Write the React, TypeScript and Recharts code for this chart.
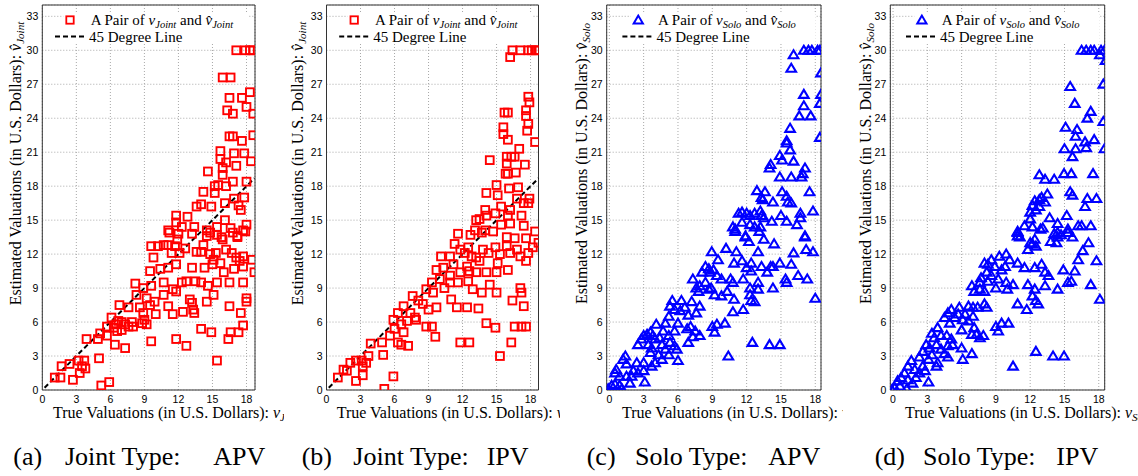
import { ScatterChart, Scatter, XAxis, YAxis, CartesianGrid, ReferenceLine, ReferenceArea } from "recharts";

const yTicks = [0, 3, 6, 9, 12, 15, 18, 21, 24, 27, 30, 33];
const xTicks = [0, 3, 6, 9, 12, 15, 18];
const yDomain = [0, 34];
const diagonal = [0.2, 18.7];

// (a) Joint type, APV: [true valuation, estimated valuation]
const jointApv = [
  [17.1, 30], [17.9, 30], [18.3, 30], [18.6, 30],
  [15.9, 27.6], [16.6, 27.6], [16.5, 25.8], [17.6, 25.8], [18.3, 26.3],
  [16.3, 24.7], [16.8, 24.4], [18.0, 25.0], [18.6, 24.4],
  [16.5, 22.4], [16.8, 22.4], [17.6, 22.0], [18.6, 22.5],
  [15.7, 21.1], [15.7, 20.4], [16.2, 20.1], [16.9, 20.9], [17.8, 20.9], [17.1, 19.8], [18.4, 20.2],
  [14.6, 19.3], [15.9, 19.6], [15.9, 19.0], [15.2, 18.0], [15.5, 18.1], [16.2, 18.0], [16.8, 18.4], [18.0, 18.4],
  [14.2, 17.5], [15.2, 17.4], [16.9, 16.9], [17.8, 17.0],
  [13.6, 16.2], [14.0, 16.4], [14.9, 16.2], [16.1, 16.5], [17.3, 16.3], [17.5, 15.9],
  [11.8, 15.4], [11.8, 14.8], [12.8, 15.3], [12.3, 14.4], [11.1, 14.1], [13.4, 14.4], [14.5, 14.1], [15.4, 14.4],
  [16.1, 15.0], [16.6, 14.3], [18.0, 14.6], [17.7, 14.1], [15.8, 13.5], [17.2, 13.5],
  [11.2, 13.9], [12.0, 13.8], [13.2, 13.8], [14.8, 13.9], [15.9, 13.3], [16.8, 13.9], [17.2, 13.6], [17.9, 14.0],
  [11.9, 13.3], [14.5, 13.6], [15.4, 13.7],
  [9.6, 12.7], [10.2, 12.7], [10.7, 12.8], [9.8, 11.7], [11.1, 12.8], [11.4, 12.1], [11.7, 12.7], [12.1, 12.1],
  [12.6, 12.5], [13.6, 12.2], [14.0, 12.2], [14.2, 12.8], [14.8, 12.0], [15.1, 11.5], [15.3, 12.1], [15.7, 11.2],
  [16.2, 12.4], [16.7, 12.1], [17.1, 11.7], [17.4, 11.4], [17.7, 11.8], [18.5, 11.5], [18.7, 10.4],
  [9.5, 10.5], [10.4, 10.7], [11.1, 10.8], [11.8, 11.1], [13.2, 10.8], [14.3, 10.8], [15.0, 11.1], [16.0, 10.4],
  [16.9, 10.7], [17.7, 10.9],
  [8.2, 9.4], [8.9, 9.0], [9.6, 9.2], [10.7, 9.5], [11.5, 8.9], [12.3, 9.5], [12.7, 9.6], [13.5, 9.6], [14.0, 9.5],
  [14.6, 9.2], [15.4, 9.5], [16.5, 9.5], [17.7, 9.5],
  [8.3, 8.4], [9.2, 8.1], [9.9, 7.8], [10.7, 8.4], [11.8, 8.7], [13.0, 8.0], [13.2, 7.7], [14.5, 7.8], [15.1, 8.4],
  [16.5, 7.4], [18.0, 8.1], [18.0, 7.8],
  [6.8, 7.5], [7.6, 7.3], [8.6, 7.3], [9.5, 7.5], [11.1, 7.4], [11.5, 6.7], [12.4, 6.9], [13.3, 7.1], [13.4, 6.8], [17.5, 6.8],
  [6.1, 6.4], [6.7, 6.1], [7.3, 5.8], [8.0, 5.6], [8.9, 6.8], [9.0, 6.2], [9.2, 5.8], [10.0, 6.7],
  [5.7, 5.6], [6.3, 5.5], [7.0, 5.3], [8.8, 5.9], [17.7, 5.7], [6.5, 5.8], [7.0, 6.0], [7.6, 5.6], [6.6, 5.2], [7.9, 6.0],
  [5.1, 5.0], [5.7, 4.8], [6.4, 4.0], [7.3, 3.7], [3.9, 4.5], [4.9, 4.5], [9.6, 4.3], [11.8, 4.5], [12.7, 3.9],
  [14.0, 5.4], [14.9, 5.1], [16.4, 4.5], [16.6, 5.1], [17.3, 5.1], [15.4, 2.6],
  [5.0, 2.8], [3.7, 2.6], [3.5, 2.1], [3.2, 2.6], [3.3, 1.5], [2.4, 2.3], [1.7, 2.1], [2.7, 0.9], [1.1, 1.1],
  [1.6, 1.1], [5.2, 0.4], [5.9, 0.7], [3.8, 1.9],
];

// (b) Joint type, IPV
const jointIpv = [
  [16.4, 30], [17.1, 30], [17.8, 30], [18.1, 30], [18.4, 30], [18.65, 30], [16.2, 29.4],
  [15.7, 24.5], [16.0, 24.5], [17.8, 25.9], [17.9, 25.4], [17.6, 24.7], [17.6, 24.2], [17.8, 23.5], [17.7, 22.9],
  [15.6, 23.2], [15.6, 22.6], [16.0, 22.1], [18.4, 21.9], [14.4, 20.3], [17.0, 21.3],
  [15.9, 20.6], [16.3, 20.6], [16.6, 20.6], [15.9, 20.0], [15.8, 19.1], [16.0, 19.1], [16.7, 19.2], [17.5, 19.9],
  [15.0, 18.1], [15.1, 17.2], [16.1, 17.8], [16.9, 17.9], [14.1, 17.4],
  [15.4, 16.2], [16.2, 15.9], [16.8, 16.9], [17.4, 16.5], [17.8, 16.5], [17.9, 16.9],
  [14.0, 15.9], [13.2, 15.0], [13.5, 15.1], [14.1, 15.4], [14.9, 15.6], [16.0, 15.4], [15.4, 14.6], [16.2, 14.7],
  [17.2, 15.4], [17.4, 14.5],
  [11.6, 13.8], [12.7, 13.7], [13.1, 14.1], [14.0, 14.1], [14.7, 14.0], [15.9, 13.5], [17.6, 13.4], [18.4, 14.0],
  [13.7, 13.9], [16.6, 13.4], [18.7, 13.0],
  [10.1, 11.8], [10.9, 11.8], [11.3, 12.9], [11.8, 12.4], [12.2, 12.1], [12.5, 12.6], [12.8, 11.8], [13.2, 11.7],
  [13.8, 12.4], [14.3, 12.1], [14.9, 12.6], [15.3, 12.0], [15.9, 12.7], [16.2, 12.1], [16.8, 12.4], [17.1, 11.8],
  [17.6, 11.4], [17.8, 12.1], [18.2, 12.6], [13.5, 11.4], [15.1, 11.2],
  [9.7, 10.6], [10.3, 10.8], [11.2, 11.1], [11.8, 10.4], [12.4, 10.9], [12.6, 10.5], [13.2, 10.4], [14.1, 10.4],
  [15.0, 10.4], [16.0, 10.6],
  [9.3, 9.5], [10.0, 9.8], [10.9, 10.1], [8.8, 8.9], [9.4, 8.6], [10.4, 9.0], [10.9, 9.5], [11.6, 9.5], [12.5, 9.6],
  [12.9, 8.9], [13.7, 8.6], [14.4, 9.3], [15.0, 8.6], [17.1, 9.0], [17.2, 8.6],
  [7.6, 8.3], [8.1, 7.9], [8.5, 7.6], [9.0, 7.1], [9.7, 7.3], [11.0, 8.0], [11.5, 7.3], [12.4, 7.3], [13.4, 7.2],
  [16.4, 7.9], [17.4, 7.4],
  [6.8, 7.4], [6.3, 6.8], [7.4, 6.8], [7.8, 6.4], [5.9, 6.2], [6.6, 5.8], [7.1, 6.1], [7.9, 6.2], [6.0, 5.4],
  [6.8, 5.1], [8.8, 5.6], [9.3, 5.6],
  [5.6, 4.8], [4.9, 4.2], [6.3, 4.2], [6.6, 4.0], [7.2, 3.9], [9.6, 4.7], [11.8, 4.2], [12.6, 4.2], [14.1, 5.9],
  [14.9, 5.5], [16.6, 5.6], [17.2, 5.6], [17.6, 5.6], [16.3, 4.2], [15.3, 3.0],
  [5.0, 3.1], [3.7, 3.0], [3.1, 2.6], [3.5, 2.4], [3.2, 2.1], [2.6, 2.6], [2.1, 2.4], [3.2, 1.3], [1.5, 1.8],
  [1.8, 1.7], [1.0, 1.1], [2.6, 0.8], [5.9, 1.2], [5.1, 0.1], [3.9, 4.1],
];

// (c) Solo type, APV
const soloApv = [
  [17.0, 30], [17.4, 30], [17.7, 30], [18.2, 30], [18.4, 30], [16.1, 29.6], [15.9, 28.4], [18.5, 28.0],
  [17.0, 26.1], [18.5, 26.1], [17.0, 25.1], [18.4, 25.3], [16.6, 24.2], [17.6, 24.2], [15.8, 23.1],
  [15.5, 22.0], [15.5, 21.8], [18.4, 22.3], [15.8, 21.2], [14.9, 20.7], [15.1, 20.3], [16.1, 20.2],
  [14.1, 19.9], [14.0, 19.6], [14.9, 18.8], [15.9, 18.8], [16.9, 19.1], [17.1, 19.6], [16.8, 18.8],
  [12.9, 17.6], [13.6, 17.5], [13.3, 17.0], [13.4, 16.8], [14.3, 16.6], [15.1, 17.5], [15.5, 17.1], [15.6, 16.6],
  [15.9, 16.5], [17.5, 17.5],
  [11.3, 15.6], [11.6, 15.7], [12.0, 15.6], [12.3, 15.4], [12.7, 15.6], [13.2, 15.8], [13.3, 15.4],
  [16.7, 15.6], [17.8, 15.8], [13.5, 15.2], [14.2, 14.9], [15.0, 15.4], [15.5, 14.9], [16.7, 15.2],
  [10.8, 14.4], [11.0, 14.2], [11.6, 14.8], [12.3, 14.6], [12.7, 14.4], [13.2, 14.4], [16.4, 14.6], [17.1, 13.5],
  [11.9, 13.5], [11.0, 14.0], [11.9, 13.6], [12.2, 13.1], [13.5, 13.3], [13.1, 14.0], [17.1, 13.6], [14.4, 12.9],
  [8.95, 12.2], [10.2, 12.5], [11.1, 12.2], [13.0, 12.2], [16.1, 12.1], [17.2, 12.4], [17.8, 12.2],
  [9.5, 11.5], [10.9, 11.2], [11.6, 11.4], [12.4, 11.2], [14.9, 11.2], [15.9, 11.1], [13.3, 10.9], [14.1, 10.9],
  [14.3, 10.9], [12.0, 10.8], [12.4, 10.5], [13.8, 10.4],
  [7.3, 9.8], [8.1, 10.4], [8.4, 10.9], [8.7, 10.7], [8.8, 10.4], [9.1, 10.6], [9.4, 10.1], [9.8, 9.8],
  [10.6, 9.8], [10.8, 9.5], [11.7, 9.8], [13.0, 9.5], [15.4, 9.8], [16.5, 10.1], [17.3, 9.8], [15.5, 9.5],
  [7.6, 9.0], [7.8, 8.7], [7.9, 9.2], [8.4, 9.5], [8.7, 8.9], [8.9, 9.0], [9.2, 8.4], [9.8, 8.3], [10.3, 8.7],
  [12.3, 9.0], [13.0, 8.9], [14.3, 9.0], [12.3, 8.4], [12.4, 7.9], [12.7, 7.8], [10.9, 8.0], [18.0, 8.1],
  [5.5, 7.9], [6.3, 7.9], [7.2, 7.8], [7.9, 7.4], [6.6, 7.3], [5.7, 7.1], [5.3, 7.4], [6.2, 7.0], [6.9, 6.6],
  [7.6, 6.8], [5.2, 6.5], [11.7, 7.1], [10.8, 6.9],
  [4.1, 5.8], [4.9, 5.9], [6.0, 5.9], [6.8, 5.4], [7.1, 5.6], [7.5, 5.2], [7.9, 4.8], [5.7, 5.2],
  [3.3, 4.9], [3.6, 5.1], [3.8, 4.8], [3.0, 4.8], [2.8, 4.5], [4.0, 4.5], [4.4, 4.6], [4.7, 5.2], [5.2, 4.8],
  [2.5, 4.0], [3.4, 4.0], [3.7, 3.7], [4.6, 4.0], [5.3, 4.2], [5.7, 3.9], [5.9, 3.6], [4.9, 3.6],
  [3.6, 3.3], [4.3, 3.1], [5.2, 3.1], [4.0, 2.4], [4.6, 2.7], [3.7, 2.1], [6.9, 4.2], [7.3, 4.7], [6.0, 2.6],
  [9.0, 5.6], [9.4, 5.8], [10.1, 5.9], [9.2, 5.1], [10.4, 3.0], [12.5, 4.2], [14.0, 4.0], [14.9, 4.0],
  [1.4, 3.0], [1.2, 2.7], [1.5, 2.3], [2.1, 1.7], [3.0, 2.4], [3.0, 1.7], [2.4, 2.4], [0.6, 1.8], [0.9, 1.2],
  [0.5, 1.5], [1.5, 1.2], [1.8, 0.6], [3.1, 0.7], [0.2, 0.4], [0.5, 0.5], [0.9, 0.4], [1.1, 0.1], [-0.1, 0.1],
  [1.95, 1.2], [2.5, 1.5],
];

// (d) Solo type, IPV
const soloIpv = [
  [16.5, 30], [16.9, 30], [17.3, 30], [17.6, 30], [18.2, 30], [18.5, 30], [18.1, 29.6], [18.6, 29.1],
  [15.5, 26.8], [18.4, 27.0], [15.9, 25.3], [17.3, 24.6], [17.0, 24.0], [18.4, 23.7], [15.1, 23.2],
  [16.1, 23.0], [15.97, 22.4], [16.8, 21.9], [17.6, 22.1], [16.9, 21.4], [15.0, 21.3], [15.97, 21.3],
  [18.5, 21.3], [15.7, 20.6], [14.96, 19.1], [15.6, 19.1], [17.5, 19.1], [12.8, 19.0], [13.3, 18.6], [14.1, 18.6],
  [15.5, 17.5], [15.7, 17.2], [17.0, 16.9], [17.8, 16.9], [16.8, 16.2],
  [12.2, 16.3], [12.4, 16.7], [12.8, 16.8], [13.0, 17.0], [13.5, 17.3], [12.0, 15.7], [12.5, 15.9], [12.8, 16.2],
  [13.3, 16.6], [13.7, 15.2], [12.0, 15.1], [11.5, 14.5], [12.2, 14.4], [13.1, 14.3], [14.4, 14.7], [15.2, 15.4],
  [15.3, 14.2], [16.2, 14.5], [16.5, 14.5], [17.3, 14.5], [10.9, 14.0], [11.1, 13.5], [14.1, 13.8], [14.4, 13.5],
  [15.7, 13.5],
  [10.9, 13.9], [10.9, 13.6], [12.0, 13.0], [12.2, 12.9], [12.9, 14.2], [12.4, 13.3], [13.8, 13.1], [14.3, 13.0],
  [14.4, 13.9], [14.7, 13.7], [15.3, 13.9], [17.1, 13.0], [16.6, 12.3], [11.8, 12.4], [12.5, 12.7],
  [16.2, 11.5], [17.8, 11.4],
  [9.3, 11.8], [9.9, 12.0], [10.2, 11.5], [8.6, 11.5], [8.0, 11.2], [8.3, 11.1], [8.9, 10.9], [9.5, 10.6],
  [9.8, 10.9], [10.9, 11.2], [11.5, 10.8], [12.4, 10.8], [13.0, 11.1], [13.3, 10.4], [13.6, 10.1], [14.9, 10.6],
  [15.9, 10.5], [8.2, 10.4], [8.6, 10.1], [7.7, 9.9], [8.3, 9.6], [7.6, 9.5], [9.2, 9.8], [9.9, 9.5],
  [9.0, 9.0], [10.0, 8.9], [10.5, 9.3], [11.8, 9.3], [12.4, 8.9], [13.3, 9.2], [14.4, 8.9], [15.3, 9.5],
  [15.6, 9.6], [17.3, 9.3], [6.9, 9.2], [7.1, 8.7], [7.6, 8.9], [8.0, 8.7],
  [12.2, 8.3], [12.5, 7.9], [12.7, 7.6], [10.9, 7.6], [11.7, 7.1], [18.1, 8.0],
  [5.8, 7.3], [6.6, 7.4], [7.0, 7.3], [7.4, 7.3], [8.0, 7.6], [8.2, 7.3], [5.1, 7.1], [5.7, 6.7], [6.3, 6.7],
  [5.4, 6.4], [6.1, 6.2], [6.6, 6.1], [7.0, 6.5], [4.5, 6.4], [4.8, 6.8], [4.96, 5.9],
  [7.1, 5.5], [7.3, 4.9], [7.6, 4.6], [7.9, 4.8], [6.9, 4.9], [6.0, 5.3], [6.0, 3.7],
  [3.9, 5.5], [3.4, 5.0], [3.6, 4.6], [4.2, 4.8], [4.7, 4.8], [5.1, 4.5], [5.2, 4.0], [4.8, 3.9],
  [2.9, 4.0], [3.2, 3.7], [3.8, 4.0], [4.2, 3.6], [3.4, 3.1], [2.6, 3.4], [2.3, 2.9], [3.1, 2.7], [3.9, 2.4],
  [3.8, 2.1], [4.8, 2.9], [4.5, 3.2], [6.9, 3.2], [6.1, 2.7],
  [9.0, 5.6], [9.5, 5.9], [10.1, 5.9], [9.2, 5.2], [10.5, 2.1], [12.5, 3.4], [14.0, 3.0], [14.96, 3.0],
  [1.3, 2.1], [1.6, 2.6], [1.9, 1.8], [2.3, 1.5], [2.6, 2.1], [2.8, 1.7], [1.0, 1.5], [0.7, 1.1], [0.4, 0.8],
  [1.3, 0.9], [1.7, 0.6], [3.1, 0.7], [0.15, 0.2], [0.6, 0.35], [1.2, 0.1], [-0.1, 0], [2.0, 1.1],
];

const toPoints = (pairs: number[][]) => pairs.map(([x, y]) => ({ x, y }));

const RED = "#ff0000";
const BLUE = "#0000ff";
const SERIF = '"Liberation Serif", "DejaVu Serif", "Times New Roman", serif';
const SANS = '"Liberation Sans", Arial, sans-serif';
const serifStyle = { fontFamily: SERIF };

const SquareMark = (props: any) => (
  <rect x={props.cx - 3.9} y={props.cy - 3.9} width={7.8} height={7.8} fill="none" stroke={RED} strokeWidth={1.9} />
);

const TriangleMark = (props: any) => {
  const { cx, cy } = props;
  return (
    <polygon
      points={`${cx},${cy - 4.6} ${cx - 4.8},${cy + 3.4} ${cx + 4.8},${cy + 3.4}`}
      fill="none"
      stroke={BLUE}
      strokeWidth={2.1}
    />
  );
};

const panels = [
  {
    id: "a", left: 0, width: 284, axisW: 42.3, right: 29, xDomain: [0, 18.75], data: jointApv,
    who: "Joint", solo: false, tag: "(a)", kind: "Joint Type:", model: "APV", cap: [13.3, 65, 213.3],
    xLabelX: 53, yLabelDx: -27,
  },
  {
    id: "b", left: 284, width: 276, axisW: 42.5, right: 21.5, xDomain: [0, 18.7], data: jointIpv,
    who: "Joint", solo: false, tag: "(b)", kind: "Joint Type:", model: "IPV", cap: [17.7, 69.3, 202.7],
    xLabelX: 52.7, yLabelDx: -29.5,
  },
  {
    id: "c", left: 565, width: 278, axisW: 41.7, right: 22, xDomain: [-0.23, 18.5], data: soloApv,
    who: "Solo", solo: true, tag: "(c)", kind: "Solo Type:", model: "APV", cap: [21.7, 70, 203.3],
    xLabelX: 57, yLabelDx: -25,
  },
  {
    id: "d", left: 848, width: 290, axisW: 42.3, right: 33.3, xDomain: [-0.24, 18.52], data: soloIpv,
    who: "Solo", solo: true, tag: "(d)", kind: "Solo Type:", model: "IPV", cap: [26.7, 75, 208.3],
    xLabelX: 57, yLabelDx: -25,
  },
];

function Panel({ p }: { p: any }) {
  const pl = p.axisW;
  const lx = p.solo ? 3 : 0;
  const yLabelX = pl + p.yLabelDx + 5.5;
  return (
    <div style={{ position: "absolute", left: p.left, top: 0, width: p.width, height: 476 }}>
      <ScatterChart width={p.width} height={476} margin={{ top: 5, right: p.right, bottom: 66, left: 0 }}>
        <CartesianGrid stroke="#a8a8a8" strokeDasharray="1 2" />
        <XAxis
          type="number"
          dataKey="x"
          domain={p.xDomain}
          ticks={xTicks}
          interval={0}
          allowDataOverflow
          tickLine={false}
          axisLine={false}
          tickSize={0}
          tickMargin={6}
          height={20}
          tick={{ fontSize: 10.5, fontFamily: SANS, fill: "#000" }}
        />
        <YAxis
          type="number"
          dataKey="y"
          domain={yDomain}
          ticks={yTicks}
          interval={0}
          allowDataOverflow
          tickLine={false}
          axisLine={false}
          tickSize={0}
          tickMargin={4}
          width={p.axisW}
          tick={{ fontSize: 10.5, fontFamily: SANS, fill: "#000" }}
        />
        <Scatter data={toPoints(p.data)} shape={p.solo ? TriangleMark : SquareMark} isAnimationActive={false} />
        <ReferenceLine
          segment={[{ x: diagonal[0], y: diagonal[0] }, { x: diagonal[1], y: diagonal[1] }]}
          stroke="#000"
          strokeWidth={2}
          strokeDasharray="5 3"
        />
        <ReferenceArea x1={p.xDomain[0]} x2={p.xDomain[1]} y1={yDomain[0]} y2={yDomain[1]} fill="none" stroke="#333" strokeWidth={1} />
      </ScatterChart>
      <svg width={p.width} height={476} style={{ position: "absolute", left: 0, top: 0, overflow: "hidden" }}>
        {/* legend */}
        <rect x={pl + 21 + lx} y={12} width={185} height={32} fill="#fff" />
        {p.solo ? (
          <polygon
            points={`${pl + 31.6},${15.6} ${pl + 27},${23.4} ${pl + 36.2},${23.4}`}
            fill="none"
            stroke={BLUE}
            strokeWidth={2}
          />
        ) : (
          <rect x={pl + 24} y={16.3} width={7.4} height={7.4} fill="none" stroke={RED} strokeWidth={1.8} />
        )}
        <text x={pl + 48.4 + lx} y={25} style={serifStyle} fontSize={15} fill="#000">
          A Pair of <tspan fontStyle="italic">v</tspan>
          <tspan fontStyle="italic" fontSize={10.5} dy={3}>{p.who}</tspan>
          <tspan dy={-3}> and </tspan>
          <tspan fontStyle="italic">{"v\u0302"}</tspan>
          <tspan fontStyle="italic" fontSize={10.5} dy={3}>{p.who}</tspan>
        </text>
        <line x1={pl + 12.7 + lx} y1={36.5} x2={pl + 44.7 + lx} y2={36.5} stroke="#000" strokeWidth={2} strokeDasharray="5 3" />
        <text x={pl + 46.7 + lx} y={41.5} style={serifStyle} fontSize={15} fill="#000">
          45 Degree Line
        </text>
        {/* axis titles */}
        <text x={p.xLabelX} y={418} style={serifStyle} fontSize={16} fill="#000">
          True Valuations (in U.S. Dollars): <tspan fontStyle="italic">v</tspan>
          <tspan fontStyle="italic" fontSize={11} dy={3}>{p.who}</tspan>
        </text>
        <text
          x={yLabelX}
          y={163.5}
          transform={`rotate(-90, ${yLabelX}, 163.5)`}
          textAnchor="middle"
          style={serifStyle}
          fontSize={16}
          fill="#000"
        >
          Estimated Valuations (in U.S. Dollars): <tspan fontStyle="italic">{"v\u0302"}</tspan>
          <tspan fontStyle="italic" fontSize={11} dy={3}>{p.who}</tspan>
        </text>
        {/* caption */}
        <text y={465} style={serifStyle} fontSize={26} fill="#000">
          <tspan x={p.cap[0]}>{p.tag}</tspan>
          <tspan x={p.cap[1]}>{p.kind}</tspan>
          <tspan x={p.cap[2]}>{p.model}</tspan>
        </text>
      </svg>
    </div>
  );
}

export default function App() {
  return (
    <div style={{ position: "fixed", left: 0, top: 0, width: 1138, height: 476, background: "#fff", overflow: "hidden" }}>
      {panels.map((p) => (
        <Panel key={p.id} p={p} />
      ))}
    </div>
  );
}
